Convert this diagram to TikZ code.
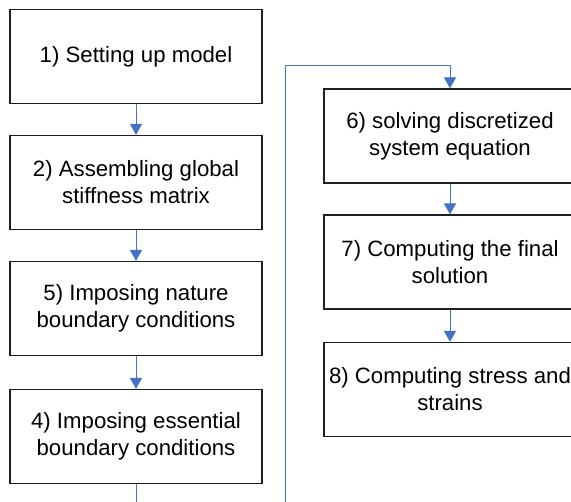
\documentclass[tikz,border=0pt]{standalone}
\usepackage{fontspec}
\setmainfont{Liberation Sans}
\usetikzlibrary{arrows.meta}
\definecolor{lineblue}{RGB}{68,114,196}
\definecolor{boxborder}{RGB}{30,30,30}
\begin{document}
\begin{tikzpicture}[x=1pt,y=-1pt,
  stepbox/.style={draw=boxborder, line width=1.2pt, fill=white, minimum width=252pt, minimum height=94pt, inner sep=0pt, align=center, font=\fontsize{22.2}{27}\selectfont},
  conn/.style={draw=lineblue, line width=1pt},
  arr/.style={conn, -{Triangle[width=12pt,length=11pt]}}]
\useasboundingbox (0,0) rectangle (571,502);
\clip (0,0) rectangle (571,502);
\node[stepbox] (b1) at (136,56.5) {1) Setting up model};
\node[stepbox] (b2) at (136,182.5) {2) Assembling global\\stiffness matrix};
\node[stepbox] (b5) at (136,308.5) {5) Imposing nature\\boundary conditions};
\node[stepbox] (b4) at (136,436.5) {4) Imposing essential\\boundary conditions};
\node[stepbox] (b6) at (450,136) {6) solving discretized\\system equation};
\node[stepbox] (b7) at (450,262) {7) Computing the final\\solution};
\node[stepbox] (b8) at (450,389.5) {8) Computing stress and\\strains};
\coordinate (e1) at (136,503);
\coordinate (e2) at (285,503);
\coordinate (t) at (285,65.5);
\draw[arr] (b1.south) -- (b2.north);
\draw[arr] (b2.south) -- (b5.north);
\draw[arr] (b5.south) -- (b4.north);
\draw[conn] (b4.south) -- (e1);
\draw[arr] (e2) -- (t) -| (b6.north);
\draw[arr] (b6.south) -- (b7.north);
\draw[arr] (b7.south) -- (b8.north);
\end{tikzpicture}
\end{document}
